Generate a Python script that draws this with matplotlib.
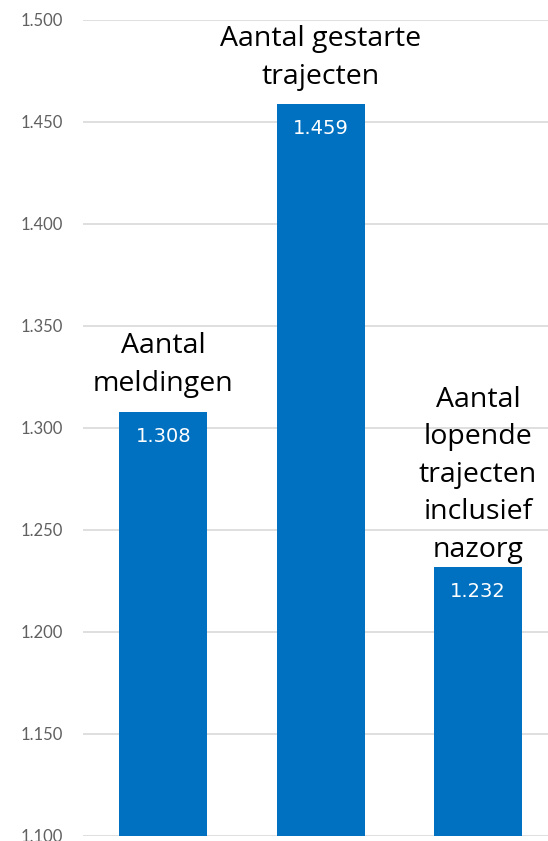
import matplotlib
matplotlib.use("Agg")
import matplotlib.pyplot as plt
from matplotlib.ticker import FixedLocator, FuncFormatter

categories = ["Aantal\nmeldingen", "Aantal gestarte\ntrajecten", "Aantal\nlopende\ntrajecten\ninclusief\nnazorg"]
values = [1308, 1459, 1232]
yticks = [1100, 1150, 1200, 1250, 1300, 1350, 1400, 1450, 1500]
label_gap_px = [14, 13, 3]

def nl(v):
    return f"{v:,.0f}".replace(",", ".")

fig = plt.figure(figsize=(5.48, 8.41), dpi=100)
ax = fig.add_axes([83/548, 1-836/841, 1-83/548, (836-20)/841])
x = list(range(len(values)))
ax.bar(x, values, width=0.56, color="#0070C0", zorder=3)
ax.set_ylim(1100, 1500)
ax.set_xlim(-0.51, 2.445)
ax.yaxis.set_major_locator(FixedLocator(yticks))
ax.yaxis.set_major_formatter(FuncFormatter(lambda v, p: nl(v)))
ax.grid(axis="y", color="#D9D9D9", linewidth=1.2, zorder=0)
for s in ax.spines.values():
    s.set_visible(False)
ax.set_xticks([])
ax.tick_params(axis="y", length=0, pad=14.5, labelsize=12, labelcolor="#606060")
for lab in ax.get_yticklabels():
    lab.set_fontfamily("Lato")

for xi, v, c, g in zip(x, values, categories, label_gap_px):
    ax.annotate(nl(v), (xi, v), xytext=(0, -25), textcoords="offset pixels",
                ha="center", va="center", color="white", fontsize=14, family="DejaVu Sans", zorder=4)
    ax.annotate(c, (xi, v), xytext=(0, g), textcoords="offset pixels",
                ha="center", va="bottom", color="black", fontsize=20.5, family="Open Sans",
                linespacing=1.45, zorder=4, annotation_clip=False)

fig.savefig("out.png", dpi=100)
